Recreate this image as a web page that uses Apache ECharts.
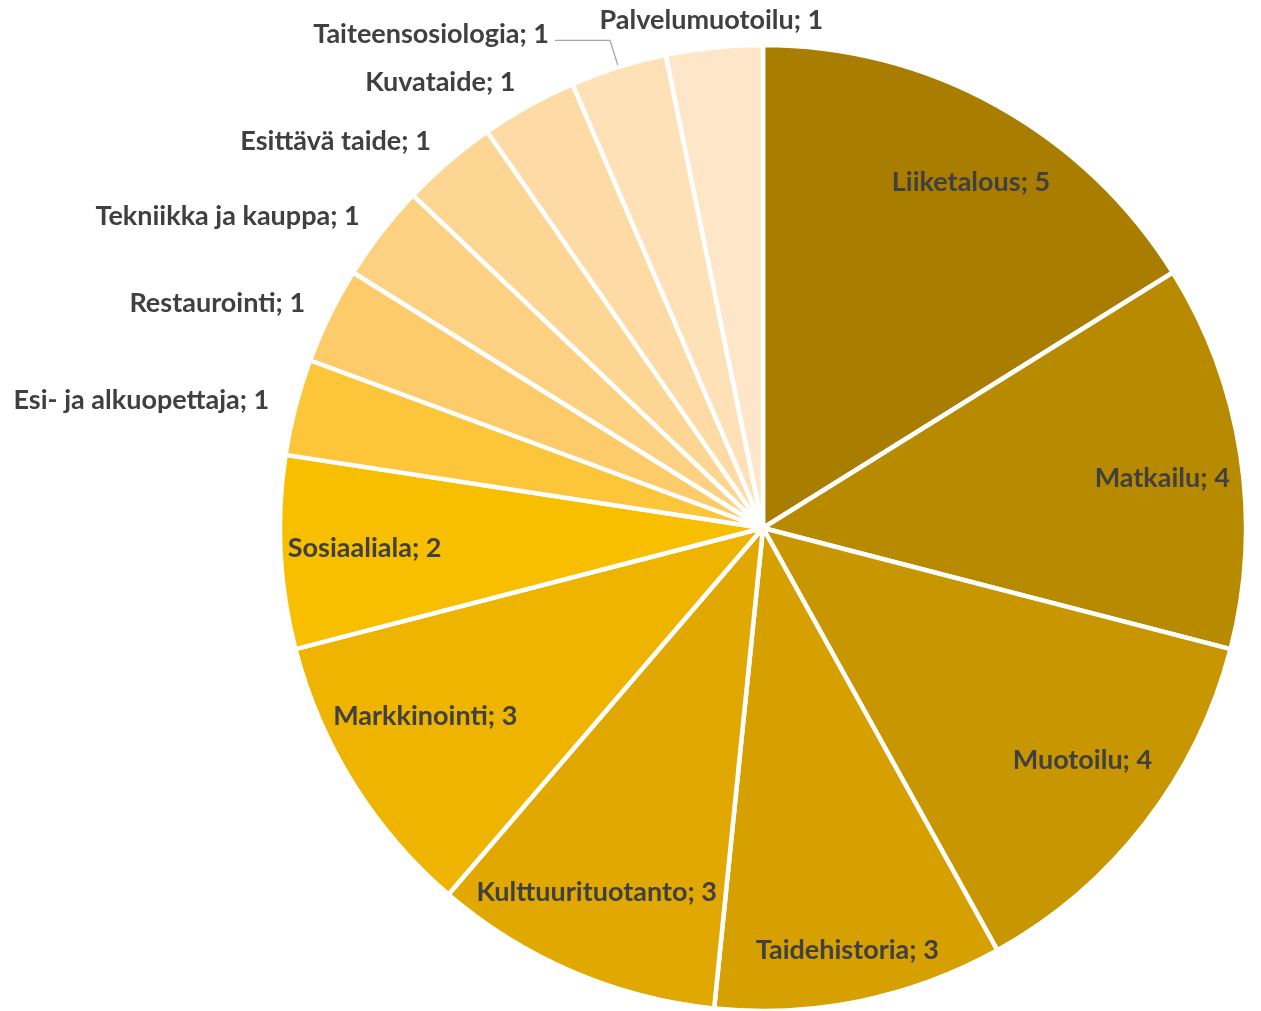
<!DOCTYPE html>
<html>
<head>
<meta charset="utf-8">
<style>
  html, body { margin: 0; padding: 0; background: #fff; }
  #chart { width: 1261px; height: 1011px; }
</style>
<script src="https://cdn.jsdelivr.net/npm/echarts@6/dist/echarts.min.js"></script>
</head>
<body>
<div id="chart"></div>
<script>
// data
const categories = ['Liiketalous', 'Matkailu', 'Muotoilu', 'Taidehistoria', 'Kulttuurituotanto',
    'Markkinointi', 'Sosiaaliala', 'Esi- ja alkuopettaja', 'Restaurointi', 'Tekniikka ja kauppa',
    'Esittävä taide', 'Kuvataide', 'Taiteensosiologia', 'Palvelumuotoilu']
const values = [5, 4, 4, 3, 3, 3, 2, 1, 1, 1, 1, 1, 1, 1]
const colors = ['#A97E00', '#B88A00', '#C89600', '#D6A000', '#E0A800', '#EFB400', '#F8BE00',
    '#FCC53A', '#FDCB6A', '#FDD182', '#FDD694', '#FEDBA4', '#FEE1B6', '#FEE6C8']

const labelColor = '#404040'
const font = { fontFamily: 'Lato, "Open Sans", sans-serif', fontWeight: 'bold', fontSize: 27, color: labelColor }
const center = [763, 528]
const R = 483

// small nudges so inside labels sit where the original put them
const insideNudge = {
    'Liiketalous': [12, 7],
    'Matkailu': [0, 11],
    'Muotoilu': [0, -15],
    'Taidehistoria': [3, 27],
    'Kulttuurituotanto': [-7, -7],
    'Markkinointi': [5, -25],
    'Sosiaaliala': [5, 0]
}

const chart = echarts.init(document.getElementById('chart'))

const mainData = categories.map((name, i) => {
    const big = values[i] > 1
    const item = {
        name: name,
        value: values[i],
        itemStyle: { color: colors[i] },
        label: { show: !big },
        labelLine: { show: false }
    }
    if (name === 'Taiteensosiologia') {
        item.labelLine = { show: true, length: 28, length2: 55, lineStyle: { color: '#A6A6A6', width: 1.3 } }
        item.label.distanceToLabelLine = 6
    }
    return item
})

// transparent ring used only to place inside labels further out
const ringData = categories.map((name, i) => ({
    name: name,
    value: values[i],
    itemStyle: { color: 'rgba(0,0,0,0)' },
    label: { show: values[i] > 1 }
}))

chart.setOption({
    animation: false,
    series: [
        {
            type: 'pie',
            center: center,
            radius: [0, R],
            startAngle: 90,
            clockwise: true,
            avoidLabelOverlap: false,
            itemStyle: { borderColor: '#fff', borderWidth: 4.5 },
            label: Object.assign({
                position: 'outside',
                formatter: '{b}; {c}',
                distanceToLabelLine: 0
            }, font),
            labelLine: { length: 27, length2: 0 },
            labelLayout: function (params) {
                if (categories[params.dataIndex] === 'Palvelumuotoilu') {
                    return { align: 'center' }
                }
                if (categories[params.dataIndex] === 'Taiteensosiologia') {
                    return { dy: -6 }
                }
            },
            data: mainData
        },
        {
            type: 'pie',
            center: center,
            radius: [R * 0.66, R],
            startAngle: 90,
            clockwise: true,
            silent: true,
            itemStyle: { borderWidth: 0 },
            label: Object.assign({
                position: 'inside',
                formatter: '{b}; {c}'
            }, font),
            labelLine: { show: false },
            labelLayout: function (params) {
                const n = insideNudge[categories[params.dataIndex]]
                if (n) return { dx: n[0], dy: n[1] }
            },
            data: ringData
        }
    ]
})
</script>
</body>
</html>
